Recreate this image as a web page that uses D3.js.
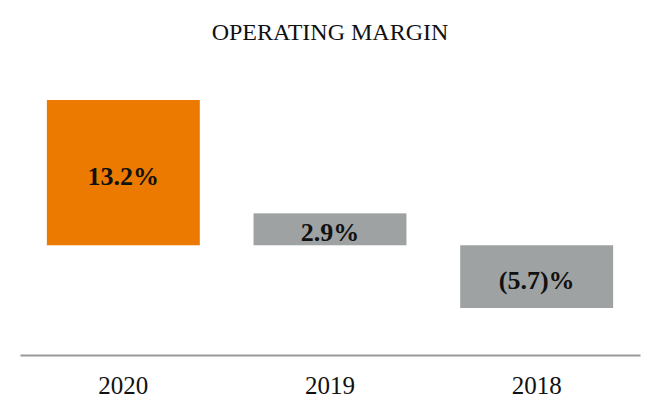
<!DOCTYPE html>
<html lang="en">
  <head>
    <meta charset="UTF-8" />
    <title>Operating margin</title>
    <script src="https://cdn.jsdelivr.net/npm/d3@7"></script>
    <style>
      body { margin: 0; background: #fff; }
      svg text { font-family: "Times New Roman", "Liberation Serif", Times, serif !important; }
    </style>
  </head>
  <body>
    <script>
      const years = ["2020", "2019", "2018"];
      const margins = [13.2, 2.9, -5.7];
      const labels = ["13.2%", "2.9%", "(5.7)%"];
      const colors = ["#ec7a00", "#9fa2a2", "#9fa2a2"];

      const width = 660, height = 420;

      let svg = d3.select("body").append("svg")
        .attr("width", width)
        .attr("height", height);

      let x = d3.scaleBand()
        .domain(years)
        .range([20, 640])
        .paddingInner(0.26)
        .paddingOuter(0.13);

      let y = d3.scaleLinear()
        .domain([-5.7, 13.2])
        .range([308, 100]);

      svg.append("text")
        .attr("x", 330)
        .attr("y", 40)
        .attr("text-anchor", "middle")
        .attr("font-size", 24)
        .attr("fill", "#111")
        .text("OPERATING MARGIN");

      let rows = years.map((yr, i) => ({ yr: yr, v: margins[i], lab: labels[i], c: colors[i] }));

      svg.selectAll("rect")
        .data(rows)
        .enter()
        .append("rect")
        .attr("x", d => x(d.yr))
        .attr("width", x.bandwidth())
        .attr("y", d => y(Math.max(0, d.v)))
        .attr("height", d => Math.abs(y(d.v) - y(0)))
        .attr("fill", d => d.c);

      svg.selectAll(".val")
        .data(rows)
        .enter()
        .append("text")
        .attr("class", "val")
        .attr("x", d => x(d.yr) + x.bandwidth() / 2)
        .attr("y", d => (y(Math.max(0, d.v)) + y(Math.min(0, d.v))) / 2 + 12)
        .attr("text-anchor", "middle")
        .attr("font-size", 26)
        .attr("font-weight", "bold")
        .attr("fill", "#111")
        .text(d => d.lab);

      let axis = svg.append("g")
        .attr("transform", "translate(0,355)")
        .call(d3.axisBottom(x).tickSize(0).tickPadding(21).tickSizeOuter(0));
      axis.select(".domain").attr("stroke", "#999").attr("stroke-width", 2);
      axis.selectAll("text")
        .attr("font-size", 25)
        .attr("fill", "#111");
    </script>
  </body>
</html>
